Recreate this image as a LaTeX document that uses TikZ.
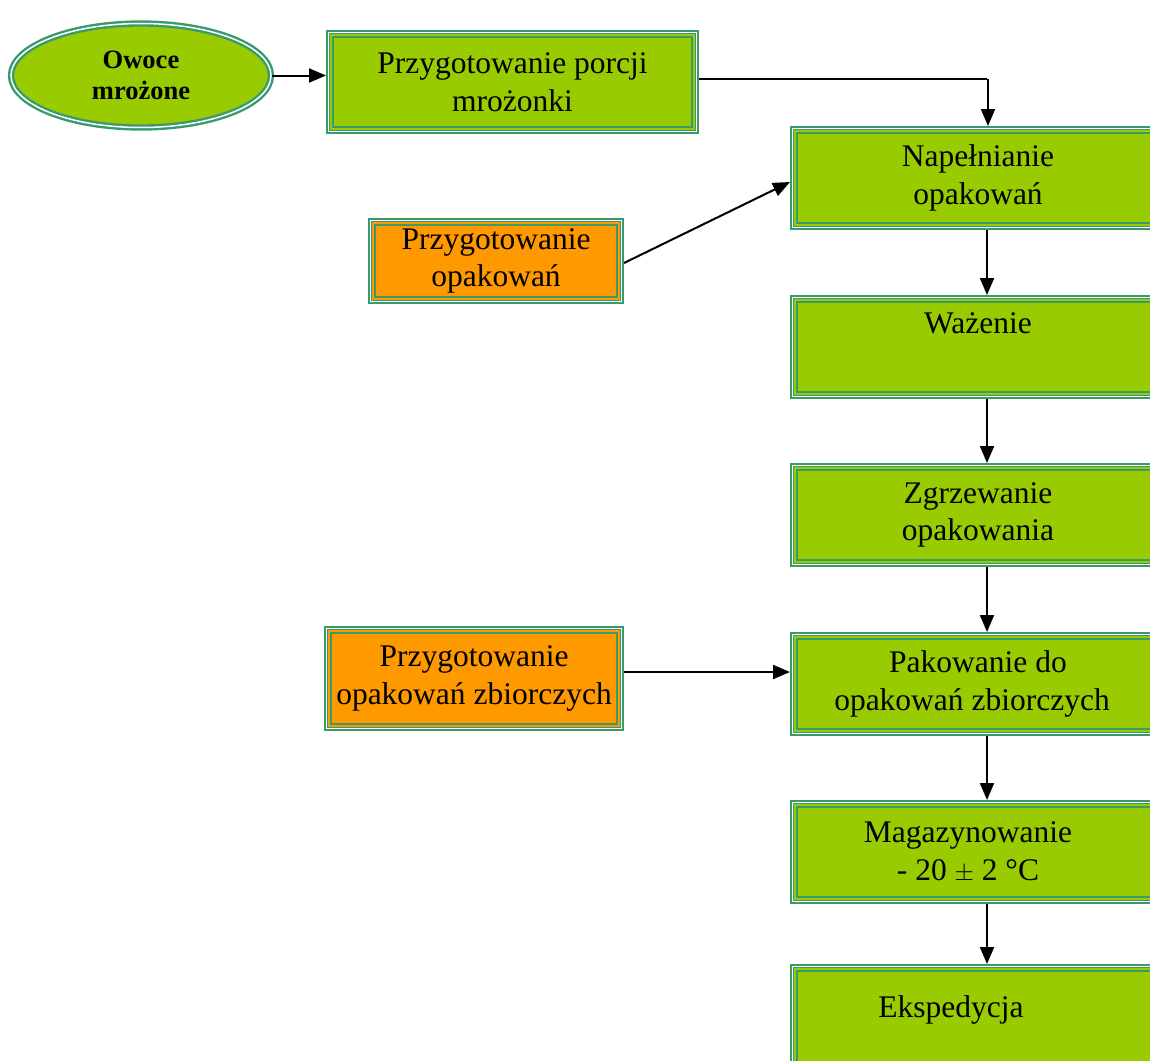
\documentclass[tikz,border=0pt]{standalone}
\usepackage{fontspec}
\setmainfont{Liberation Serif}
\usetikzlibrary{shapes.geometric,arrows.meta}
\definecolor{leaf}{HTML}{99CC00}
\definecolor{amber}{HTML}{FF9900}
\definecolor{rim}{HTML}{3A9A6C}
\tikzset{
  framed/.style={draw=rim, line width=2pt, inner sep=0pt, align=center,
    font=\fontsize{31.5}{37.5}\selectfont, anchor=north west,
    path picture={
      \draw[white, line width=1pt]
        ([shift={(1.5pt,-1.5pt)}]path picture bounding box.north west) rectangle
        ([shift={(-1.5pt,1.5pt)}]path picture bounding box.south east);
      \draw[rim, line width=1pt]
        ([shift={(2.5pt,-2.5pt)}]path picture bounding box.north west) rectangle
        ([shift={(-2.5pt,2.5pt)}]path picture bounding box.south east);
      \draw[rim, line width=2pt]
        ([shift={(6pt,-6pt)}]path picture bounding box.north west) rectangle
        ([shift={(-6pt,6pt)}]path picture bounding box.south east);
    }},
  greenbox/.style={framed, fill=leaf},
  orangebox/.style={framed, fill=amber},
  oval/.style={ellipse, draw=rim, line width=2.4pt, double=white, double distance=1.5pt,
    fill=leaf, inner sep=0pt, align=center,
    font=\fontsize{26.5}{31}\selectfont\bfseries},
  flow/.style={line width=2pt, -{Triangle[length=17pt,width=14pt]}},
  plain/.style={line width=2pt}
}
\begin{document}
\begin{tikzpicture}[x=1pt,y=-1pt]
\useasboundingbox (0,0) rectangle (1150,1060);
\clip (0,0) rectangle (1150,1060);

% raw material and first step
\node[oval, minimum width=260pt, minimum height=104pt] (fruit) at (141,75.5) {Owoce\\mrożone};
\node[greenbox, minimum width=371pt, minimum height=102pt] (portion) at (326,30)
  {Przygotowanie porcji\\mrożonki};

% main line of processing steps
\node[greenbox, minimum width=374pt, minimum height=102pt] (fill) at (790,126)
  {Napełnianie\\opakowań};
\node[greenbox, minimum width=374pt, minimum height=102pt] (weigh) at (790,295)
  {Ważenie\\\strut};
\node[greenbox, minimum width=374pt, minimum height=102pt] (seal) at (790,463)
  {Zgrzewanie\\opakowania};
\node[greenbox, minimum width=374pt, minimum height=102pt] (pack) at (790,632)
  {Pakowanie do\\\hspace*{-6pt}opakowań zbiorczych\hspace*{6pt}};
\node[greenbox, minimum width=374pt, minimum height=102pt] (store) at (790,800)
  {\hspace*{-10pt}Magazynowanie\hspace*{10pt}\\\hspace*{-10pt}- 20 $\pm$ 2 °C\hspace*{10pt}};
\node[greenbox, minimum width=374pt, minimum height=104pt] (ship) at (790,964)
  {\hspace*{-27pt}\raisebox{7pt}[\height][\depth]{Ekspedycja}\hspace*{27pt}};

% side preparation steps
\node[orangebox, minimum width=254pt, minimum height=84pt] (cont) at (368,218)
  {Przygotowanie\\opakowań};
\node[orangebox, minimum width=298pt, minimum height=103pt] (bulk) at (324,626)
  {Przygotowanie\\opakowań zbiorczych};

% connectors
\draw[flow] (fruit.east) -- (portion.west |- fruit.east);
\coordinate (turn) at (987,79);
\draw[plain] (portion.east |- turn) -- (turn);
\draw[flow] ([xshift=1pt]turn) -- ([xshift=1pt]turn |- fill.north);
\draw[flow] ([yshift=-2pt]cont.east) -- ([yshift=-4pt]fill.west);
\draw[flow] (bulk.east |- 0,672) -- (pack.west |- 0,672);
\foreach \a/\b in {fill/weigh, weigh/seal, seal/pack, pack/store, store/ship}
  \draw[flow] (987,0 |- \a.south) -- (987,0 |- \b.north);
\end{tikzpicture}
\end{document}
